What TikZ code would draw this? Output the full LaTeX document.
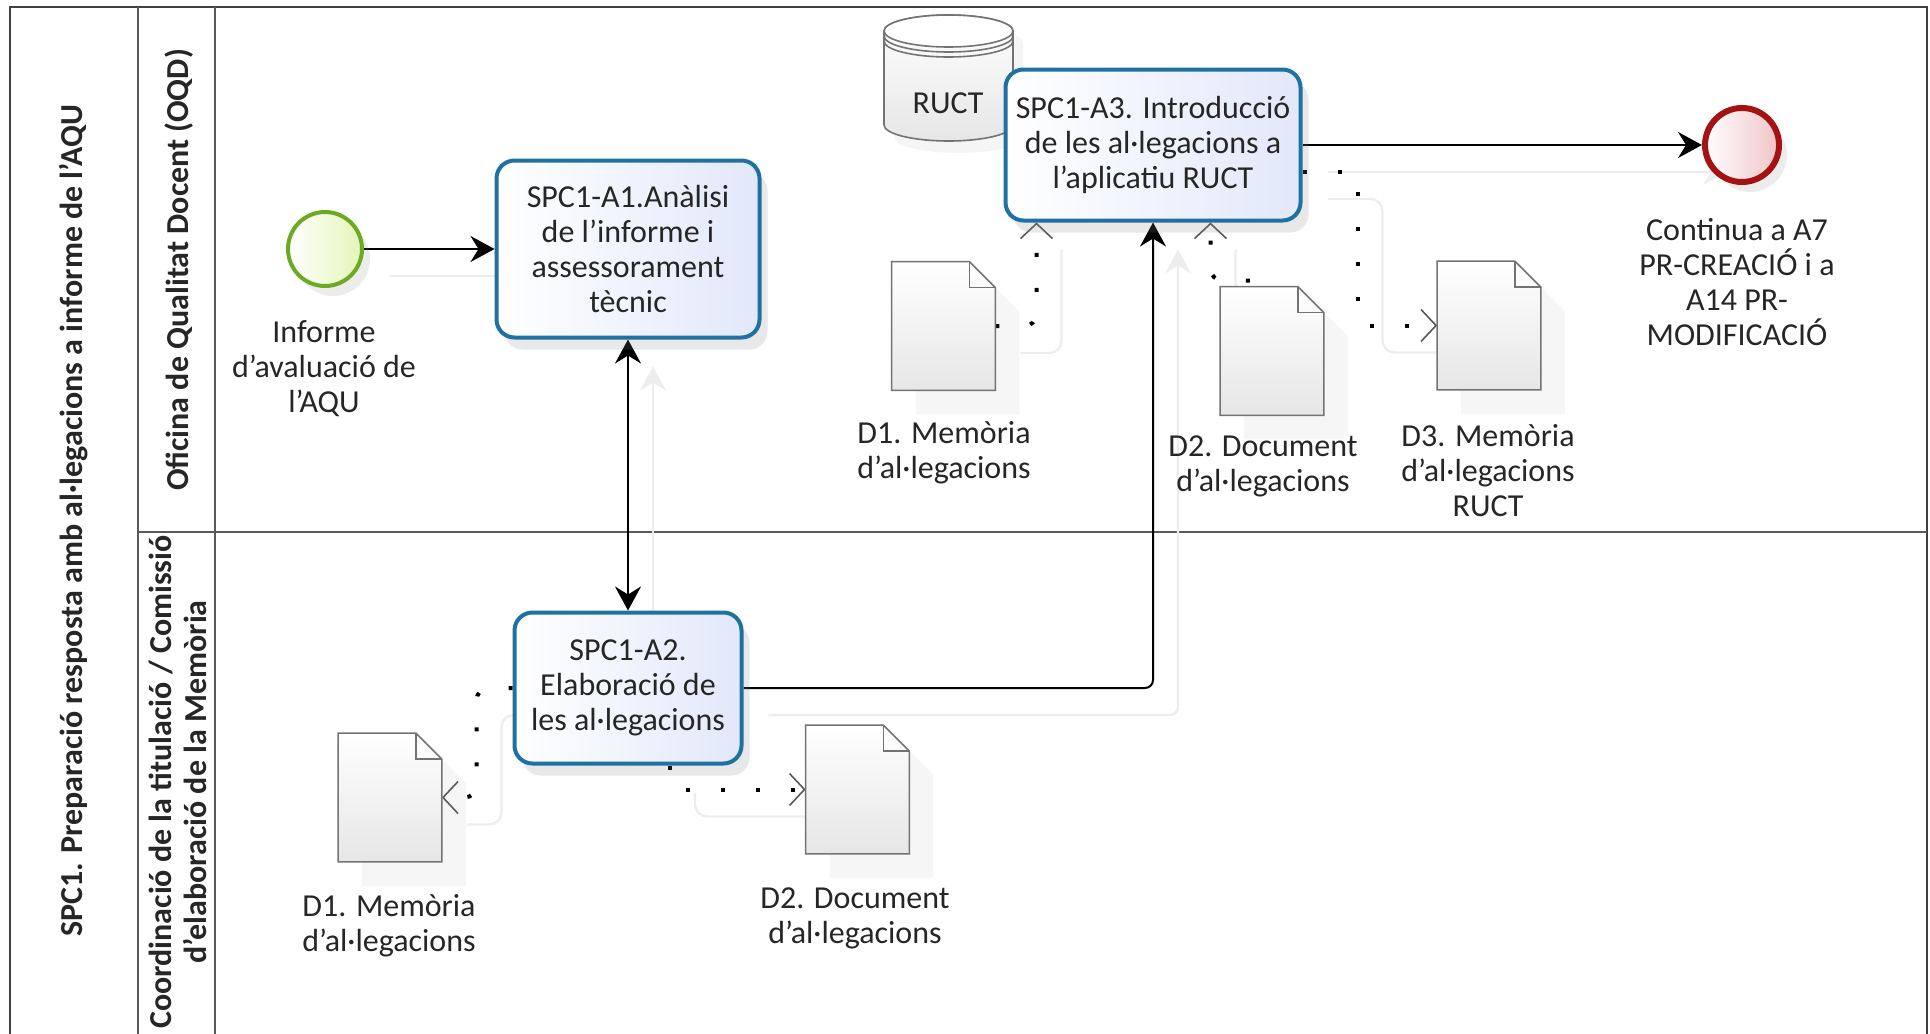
\documentclass[tikz,border=0pt]{standalone}
\usepackage{fontspec}
\setmainfont{Carlito}
\usepackage{tikz}
\usetikzlibrary{arrows.meta}
\usetikzlibrary{shadows}
\usetikzlibrary{backgrounds}
\definecolor{taskblue}{RGB}{31,113,161}
\definecolor{taskfill}{RGB}{226,232,250}
\definecolor{startline}{RGB}{108,170,36}
\definecolor{startfill}{RGB}{228,245,185}
\definecolor{endline}{RGB}{165,18,18}
\definecolor{endfill}{RGB}{240,196,200}
\definecolor{docfill}{RGB}{230,230,230}

\begin{document}
\begin{tikzpicture}[x=0.5pt,y=-0.5pt,>={Stealth[length=12pt,width=13pt,inset=4pt]},
  every node/.style={font=\fontsize{16}{17.5}\selectfont,text=black!85},
  task/.style={draw=taskblue,line width=2pt,rounded corners=9pt,left color=white,right color=taskfill,align=center,inner sep=0pt,drop shadow={shadow xshift=4pt,shadow yshift=-6pt,opacity=.18}},
  event/.style={circle,minimum size=37pt,inner sep=0pt,drop shadow={shadow xshift=4pt,shadow yshift=-5pt,opacity=.15}},
  lbl/.style={align=center,inner sep=0pt},
  lane/.style={rotate=90,align=center,inner sep=0pt,font=\fontsize{16}{17.5}\selectfont\bfseries},
  doc/.style={minimum width=51.5pt,minimum height=64pt,inner sep=0pt},
  docline/.style={draw=black!55,line width=0.8pt,top color=white,bottom color=docfill,drop shadow={shadow xshift=12pt,shadow yshift=-12pt,opacity=.07}},
  dbline/.style={draw=black!55,line width=0.8pt,top color=white,bottom color=docfill,drop shadow={shadow xshift=5pt,shadow yshift=-6pt,opacity=.08}},
  ghost/.style={preaction={draw=black!7,solid,line width=1.2pt,transform canvas={shift={(12.5pt,-13.5pt)}},#1}},
  ghost/.default={},
  flow/.style={draw=black,line width=1pt,rounded corners=4pt,ghost,->},
  assoc/.style={draw=black,line width=2pt,dash pattern=on 2pt off 15.5pt,rounded corners=6pt,ghost={-},-{Straight Barb[length=7.5pt,width=16pt,line width=0.8pt,color=black!65]}}]
\useasboundingbox (0,0) rectangle (1930,1033);

\draw[dbline] (884,31) -- (884,125) arc[start angle=180,end angle=0,x radius=64.5,y radius=16] -- (1013,31) arc[start angle=360,end angle=180,x radius=64.5,y radius=16] -- cycle;
\draw[draw=black!55,line width=0.8pt,fill=white] (948.5,31) ellipse[x radius=64.5,y radius=16];
\foreach \r in {5,10}
  \draw[black!55,line width=0.8pt] (884,31+\r) arc[start angle=180,end angle=0,x radius=64.5,y radius=16];
\node (ruct) at (948,103) {RUCT};

\node[event,draw=startline,line width=2pt,left color=white,right color=startfill] (start) at (325,249) {};
\node[lbl] (startlbl) at (324,369) {Informe\\d'avaluació de\\l'AQU};
\node[task,minimum width=131.5pt,minimum height=88.5pt] (a1) at (628,249) {SPC1-A1.Anàlisi\\de l'informe i\\assessorament\\tècnic};
\node[task,minimum width=113.5pt,minimum height=75.5pt] (a2) at (628,688) {SPC1-A2.\\Elaboració de\\les al·legacions};
\node[task,minimum width=147.5pt,minimum height=75.5pt] (a3) at (1153,145) {SPC1-A3. Introducció\\de les al·legacions a\\l'aplicatiu RUCT};
\node[event,draw=endline,line width=3pt,left color=white,right color=endfill] (end) at (1742,145) {};
\node[lbl] (endlbl) at (1737,282) {Continua a A7\\PR-CREACIÓ i a\\A14 PR-\\MODIFICACIÓ};

\node[doc] (d1a) at (943.5,326) {};
\node[doc] (d2a) at (1272,351) {};
\node[doc] (d3a) at (1489,325.5) {};
\node[doc] (d1b) at (390,797.5) {};
\node[doc] (d2b) at (857.5,789.5) {};
\foreach \d in {d1a,d2a,d3a,d1b,d2b}{
  \draw[docline] (\d.south west) -- (\d.north west) -- ([xshift=-13pt]\d.north east) -- ([yshift=-13pt]\d.north east) -- (\d.south east) -- cycle;
  \draw[black!55,line width=0.8pt] ([xshift=-13pt]\d.north east) |- ([yshift=-13pt]\d.north east);
}
\node[lbl] (d1albl) at (944,453) {D1. Memòria\\d'al·legacions};
\node[lbl] (d2albl) at (1263,466) {D2. Document\\d'al·legacions};
\node[lbl] (d3albl) at (1488,471) {D3. Memòria\\d'al·legacions\\RUCT};
\node[lbl] (d1blbl) at (389,926) {D1. Memòria\\d'al·legacions};
\node[lbl] (d2blbl) at (855,918) {D2. Document\\d'al·legacions};

\node[lane] (pool) at (74,521) {SPC1. Preparació resposta amb al·legacions a informe de l'AQU};
\node[lane] (oqd) at (179,270) {Oficina de Qualitat Docent (OQD)};
\node[lane] (coord) at (178,782) {Coordinació de la titulació / Comissió\\d'elaboració de la Memòria};

\begin{scope}[on background layer]
  \draw[black!75,line width=1.3pt] (10,1045) -- (10,7) -- (1927,7) -- (1927,1045);
  \draw[black!65,line width=1pt] (138,7) -- (138,1045) (215,7) -- (215,1045) (138,532) -- (1927,532);
  \draw[flow] (start) -- (a1);
  \draw[flow,<->] (a1) -- (a2);
  \draw[flow] (a2.east) -| (a3.south);
  \draw[flow] (a3) -- (end);
  \draw[assoc] (d1a.east) -| ([xshift=16.5pt]a3.south west);
  \draw[assoc] (d2a.north) -- ++(0,-6) -| ([xshift=103.5pt]a3.south west);
  \draw[assoc] ([yshift=-13.5pt]a3.east) -- ++(55,0) |- (d3a.west);
  \draw[assoc] (a2.west) -- ++(-36,0) |- (d1b.east);
  \draw[assoc] ([xshift=21pt]a2.south) |- (d2b.west);
\end{scope}
\end{tikzpicture}
\end{document}
